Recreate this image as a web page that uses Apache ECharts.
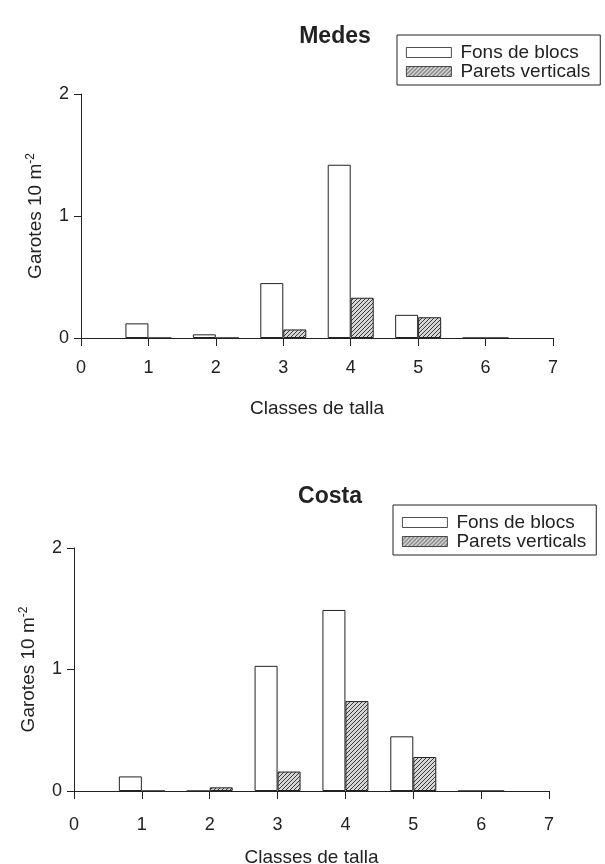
<!DOCTYPE html>
<html>
<head>
<meta charset="utf-8">
<script src="https://cdn.jsdelivr.net/npm/echarts@6/dist/echarts.min.js"></script>
<style>
  html, body { margin: 0; padding: 0; background: #fff; }
  #chart { width: 605px; height: 864px; }
</style>
</head>
<body>
<div id="chart"></div>
<script>
// Size classes on the x axis (bar centres)
const classes = [1, 2, 3, 4, 5, 6];
const xTicks = [0, 1, 2, 3, 4, 5, 6, 7];
const yTicks = [0, 1, 2];

// Density (individuals per 10 m²) by size class
const medesFons = [0.12, 0.03, 0.45, 1.42, 0.19, 0];
const medesParets = [0, 0, 0.07, 0.33, 0.17, 0];
const costaFons = [0.12, 0, 1.03, 1.49, 0.45, 0];
const costaParets = [0, 0.03, 0.16, 0.74, 0.28, 0];

const seriesNames = ['Fons de blocs', 'Parets verticals'];
const panelTitles = ['Medes', 'Costa'];

// Diagonal hatch used for the vertical-wall series
function makeHatch() {
  const s = 4;
  const c = document.createElement('canvas');
  c.width = s; c.height = s;
  const g = c.getContext('2d');
  g.fillStyle = '#d6d6d6';
  g.fillRect(0, 0, s, s);
  g.strokeStyle = '#3a3a3a';
  g.lineWidth = 1;
  g.beginPath();
  g.moveTo(-1, s + 1); g.lineTo(s + 1, -1);
  g.moveTo(-1, 1); g.lineTo(1, -1);
  g.moveTo(s - 1, s + 1); g.lineTo(s + 1, s - 1);
  g.stroke();
  return c;
}
const hatch = { image: makeHatch(), repeat: 'repeat' };

const ink = '#222';
const font = 'Liberation Sans, Arial, sans-serif';

function pairs(values) {
  return classes.map((c, i) => [c, values[i]]);
}

// Fixed plot rectangles; labels may sit outside them
const grids = [
  { left: 81, top: 94, width: 472, height: 244, outerBoundsMode: 'none', containLabel: false },
  { left: 74, top: 548, width: 475, height: 243, outerBoundsMode: 'none', containLabel: false }
];

function xAxisFor(i, labelMargin, nameGap) {
  return {
    type: 'value', gridIndex: i, min: xTicks[0], max: xTicks[xTicks.length - 1], interval: 1,
    name: 'Classes de talla', nameLocation: 'middle', nameGap: nameGap,
    nameTextStyle: { color: ink, fontSize: 19, fontFamily: font },
    axisLine: { show: true, onZero: false, lineStyle: { color: ink, width: 1 } },
    axisTick: { show: true, inside: false, length: 8, lineStyle: { color: ink } },
    axisLabel: { color: ink, fontSize: 18, fontFamily: font, margin: labelMargin },
    splitLine: { show: false }
  };
}

function yAxisFor(i) {
  return {
    type: 'value', gridIndex: i, min: yTicks[0], max: yTicks[yTicks.length - 1], interval: 1,
    name: '{a|Garotes 10 m}{b|-2}', nameLocation: 'middle', nameGap: 35,
    nameTextStyle: {
      color: ink, fontFamily: font,
      rich: {
        a: { fontSize: 19, fontFamily: font, color: ink },
        b: { fontSize: 12, fontFamily: font, color: ink, verticalAlign: 'top', padding: [0, 0, 9, 0] }
      }
    },
    axisLine: { show: true, lineStyle: { color: ink, width: 1 } },
    axisTick: { show: true, inside: false, length: 7, lineStyle: { color: ink } },
    axisLabel: { color: ink, fontSize: 18, fontFamily: font, margin: 12 },
    splitLine: { show: false }
  };
}

function barSeries(name, values, gi, color) {
  return {
    type: 'bar', name: name, xAxisIndex: gi, yAxisIndex: gi,
    data: pairs(values), barWidth: 23, barGap: '0%',
    itemStyle: { color: color, borderColor: ink, borderWidth: 1 },
    emphasis: { disabled: true }
  };
}

function legendFor(left, top) {
  return {
    left: left, top: top, orient: 'vertical', data: seriesNames,
    icon: 'rect', itemWidth: 45, itemHeight: 10, itemGap: 0,
    padding: [8, 10, 4, 9],
    borderColor: ink, borderWidth: 1,
    itemStyle: { borderWidth: 0.8 },
    textStyle: { color: ink, fontSize: 19, lineHeight: 16, fontFamily: font, padding: [0, 0, 0, 4] },
    selectedMode: false
  };
}

const option = {
  animation: false,
  backgroundColor: '#fff',
  title: [
    { text: panelTitles[0], left: 330, top: 20, textAlign: 'center',
      textStyle: { fontSize: 23, fontWeight: 'bold', color: ink, fontFamily: font } },
    { text: panelTitles[1], left: 325, top: 480, textAlign: 'center',
      textStyle: { fontSize: 23, fontWeight: 'bold', color: ink, fontFamily: font } }
  ],
  legend: [legendFor(397, 35), legendFor(393, 505)],
  grid: grids,
  xAxis: [xAxisFor(0, 21, 61), xAxisFor(1, 25, 57)],
  yAxis: [yAxisFor(0), yAxisFor(1)],
  series: [
    barSeries(seriesNames[0], medesFons, 0, '#ffffff'),
    barSeries(seriesNames[1], medesParets, 0, hatch),
    barSeries(seriesNames[0], costaFons, 1, '#ffffff'),
    barSeries(seriesNames[1], costaParets, 1, hatch)
  ]
};

const chart = echarts.init(document.getElementById('chart'), null, { renderer: 'canvas' });
chart.setOption(option);
</script>
</body>
</html>
